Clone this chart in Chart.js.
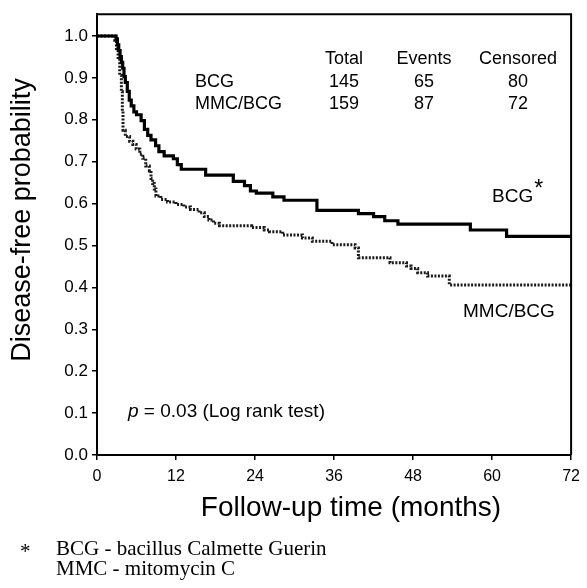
<!DOCTYPE html>
<html><head><meta charset="utf-8">
<script src="https://cdn.jsdelivr.net/npm/chart.js@4/dist/chart.umd.min.js"></script>
<style>html,body{margin:0;padding:0;background:#fff}#wrap{width:587px;height:588px;position:relative}</style>
</head><body><div id="wrap"><canvas id="c" width="587" height="588"></canvas></div>
<script>
// ---- data ----
const xTickValues = [0, 12, 24, 36, 48, 60, 72];
const yTickValues = [0.0, 0.1, 0.2, 0.3, 0.4, 0.5, 0.6, 0.7, 0.8, 0.9, 1.0];

const bcgMonths = [0, 2.9, 3.1, 3.3, 3.5, 3.7, 3.9, 4.1, 4.3, 4.6, 4.9, 5.2, 5.6, 6.0, 6.7, 7.2, 7.7, 8.2, 8.9, 9.4, 10.2, 11.6, 12.2, 12.8, 16.5, 20.7, 22.4, 23.3, 24.2, 26.7, 28.4, 33.4, 39.7, 42.0, 43.7, 45.7, 56.7, 62.2, 72];
const bcgSurv   = [1.0, 0.993, 0.979, 0.965, 0.951, 0.937, 0.923, 0.903, 0.889, 0.868, 0.847, 0.833, 0.819, 0.812, 0.798, 0.777, 0.763, 0.752, 0.738, 0.724, 0.714, 0.707, 0.693, 0.682, 0.668, 0.653, 0.643, 0.630, 0.625, 0.616, 0.608, 0.584, 0.576, 0.569, 0.559, 0.551, 0.537, 0.522, 0.522];

const mmcMonths = [0, 2.7, 2.95, 3.2, 3.45, 3.7, 3.85, 3.95, 4.3, 4.95, 5.45, 5.95, 6.5, 6.95, 7.4, 7.95, 8.2, 8.45, 8.7, 8.95, 9.7, 10.7, 12.0, 13.2, 14.2, 15.5, 16.3, 17.0, 17.7, 18.6, 23.5, 25.4, 26.2, 28.2, 31.2, 32.7, 35.7, 39.2, 39.7, 44.5, 47.0, 47.7, 48.7, 50.2, 53.5, 72];
const mmcSurv   = [1.0, 0.99, 0.97, 0.945, 0.906, 0.867, 0.82, 0.775, 0.76, 0.749, 0.741, 0.73, 0.718, 0.708, 0.69, 0.678, 0.66, 0.648, 0.635, 0.618, 0.61, 0.604, 0.598, 0.592, 0.586, 0.578, 0.569, 0.561, 0.553, 0.547, 0.543, 0.537, 0.533, 0.525, 0.518, 0.510, 0.502, 0.494, 0.471, 0.459, 0.451, 0.445, 0.435, 0.427, 0.406, 0.406];

const seriesNames   = ['BCG', 'MMC/BCG'];
const tableHeader   = ['Total', 'Events', 'Censored'];
const groupTotal    = [145, 159];
const groupEvents   = [65, 87];
const groupCensored = [80, 72];

const xTitle = 'Follow-up time (months)';
const yTitle = 'Disease-free probability';
const pText  = ' = 0.03 (Log rank test)';
const footnotes = ['BCG - bacillus Calmette Guerin', 'MMC - mitomycin C'];

// ---- build ----
const SANS = '"Liberation Sans", Arial, Helvetica, sans-serif';
const SERIF = '"Liberation Serif", "Times New Roman", serif';
const toPts = (xs, ys) => xs.map((x, i) => ({x: x, y: ys[i]}));

const annot = {
  id: 'annot',
  afterDraw(chart) {
    const ctx = chart.ctx, a = chart.chartArea;
    ctx.save();
    // frame top/right
    ctx.strokeStyle = '#000'; ctx.lineWidth = 2;
    ctx.beginPath();
    ctx.moveTo(a.left - 1, a.top); ctx.lineTo(a.right, a.top); ctx.lineTo(a.right, a.bottom);
    ctx.stroke();

    ctx.fillStyle = '#000';
    ctx.textBaseline = 'middle';
    // table
    ctx.font = '18px ' + SANS;
    ctx.textAlign = 'center';
    const colX = [344, 424, 518];
    tableHeader.forEach((h, i) => ctx.fillText(h, colX[i], 59));
    const rowY = [82, 104];
    ctx.textAlign = 'left';
    seriesNames.forEach((n, r) => ctx.fillText(n, 195, rowY[r]));
    ctx.textAlign = 'center';
    for (let r = 0; r < 2; r++) {
      ctx.fillText(String(groupTotal[r]), colX[0], rowY[r]);
      ctx.fillText(String(groupEvents[r]), colX[1], rowY[r]);
      ctx.fillText(String(groupCensored[r]), colX[2], rowY[r]);
    }
    // curve labels
    ctx.textAlign = 'left';
    ctx.font = '19px ' + SANS;
    ctx.fillText(seriesNames[0], 492, 197);
    const w = ctx.measureText(seriesNames[0]).width;
    ctx.font = '23px ' + SANS;
    ctx.fillText('*', 492 + w + 1, 190);
    ctx.font = '19px ' + SANS;
    ctx.fillText(seriesNames[1], 463, 312);
    // p value
    ctx.font = 'italic 19px ' + SANS;
    ctx.fillText('p', 128, 412);
    const pw = ctx.measureText('p').width;
    ctx.font = '19px ' + SANS;
    ctx.fillText(pText, 128 + pw, 412);
    // axis titles
    ctx.font = '28px ' + SANS;
    ctx.textAlign = 'center';
    ctx.fillText(xTitle, 351, 508);
    ctx.save();
    ctx.font = '27px ' + SANS;
    ctx.translate(23, 220);
    ctx.rotate(-Math.PI / 2);
    ctx.fillText(yTitle, 0, 0);
    ctx.restore();
    // footnotes
    ctx.font = '21px ' + SERIF;
    ctx.textAlign = 'left';
    ctx.fillText('*', 20, 552);
    ctx.fillText(footnotes[0], 56, 549);
    ctx.fillText(footnotes[1], 56, 569);
    ctx.restore();
  }
};

new Chart(document.getElementById('c'), {
  type: 'line',
  data: {
    datasets: [
      { label: seriesNames[0], data: toPts(bcgMonths, bcgSurv), stepped: true,
        borderColor: '#000', borderWidth: 3.2, pointRadius: 0, fill: false },
      { label: seriesNames[1], data: toPts(mmcMonths, mmcSurv), stepped: true,
        borderColor: '#1a1a1a', borderWidth: 3, borderDash: [2, 1.5], pointRadius: 0, fill: false }
    ]
  },
  options: {
    responsive: false, animation: false, devicePixelRatio: 1,
    layout: { padding: { left: 0, top: 8, right: 10, bottom: 0 } },
    plugins: { legend: { display: false }, tooltip: { enabled: false } },
    scales: {
      x: {
        type: 'linear', min: 0, max: 72,
        afterBuildTicks: s => { s.ticks = xTickValues.map(v => ({value: v})); },
        afterFit: s => { s.height = 133; },
        border: { color: '#000', width: 2 },
        grid: { drawOnChartArea: false, drawTicks: true, tickLength: 5, color: '#000', lineWidth: 1.5 },
        ticks: { color: '#000', font: { family: SANS, size: 16 }, padding: 7, maxRotation: 0 }
      },
      y: {
        type: 'linear', min: 0, max: 1.052,
        afterBuildTicks: s => { s.ticks = yTickValues.map(v => ({value: v})); },
        afterFit: s => { s.width = 97; },
        border: { color: '#000', width: 2 },
        grid: { drawOnChartArea: false, drawTicks: true, tickLength: 5, color: '#000', lineWidth: 1.5 },
        ticks: { color: '#000', font: { family: SANS, size: 17 }, padding: 4,
                 callback: v => Number(v).toFixed(1) }
      }
    }
  },
  plugins: [annot]
});
</script>
</body></html>
